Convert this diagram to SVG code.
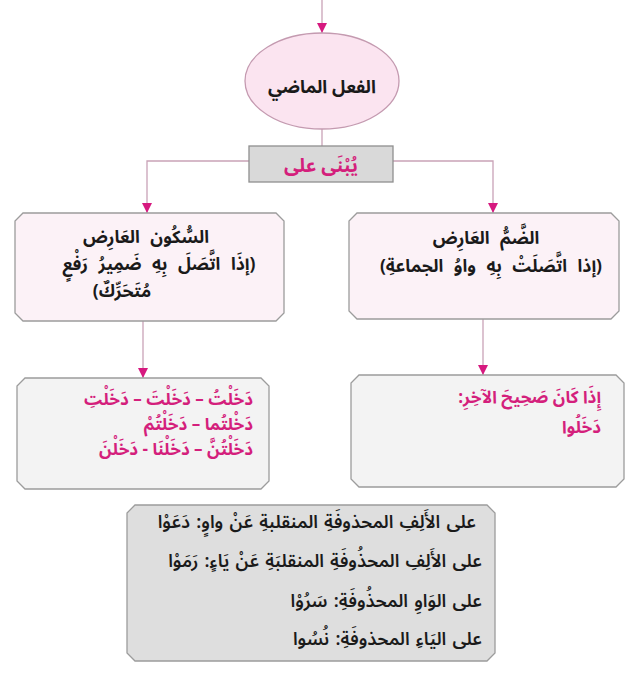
<svg xmlns="http://www.w3.org/2000/svg" width="640" height="693" viewBox="0 0 640 693">
<style>
.ln{fill:none;stroke:#c9a2b7;stroke-width:1.3}
.t{font-family:"Noto Sans Arabic","DejaVu Sans",sans-serif;direction:rtl;unicode-bidi:embed}
.b{font-weight:bold}
.c{text-anchor:middle}
.r{text-anchor:start}
.blk{fill:#1a1a1a}
.mag{fill:#d41f7c}
.box{stroke:#9c9c9c;stroke-width:1.3}
</style>
<defs>
<marker id="ah" markerUnits="userSpaceOnUse" markerWidth="10" markerHeight="11" refX="10" refY="5" orient="auto">
<path d="M0,0 L10,5 L0,10 Z" fill="#d6197f"/>
</marker>
</defs>
<rect width="640" height="693" fill="#ffffff"/>
<g id="connectors">
<path class="ln" d="M322,0 V33" marker-end="url(#ah)"/>
<path class="ln" d="M322,129 V146"/>
<path class="ln" d="M249,161 H147 V213" marker-end="url(#ah)"/>
<path class="ln" d="M393,161 H493 V213" marker-end="url(#ah)"/>
<path class="ln" d="M143,321 V378" marker-end="url(#ah)"/>
<path class="ln" d="M483,319 V375" marker-end="url(#ah)"/>
</g>
<g id="past-verb">
<ellipse cx="322" cy="81" rx="77" ry="48" fill="#fbe4f0" stroke="#c49ab0" stroke-width="1.3"/>
<text class="t b c blk" x="322" y="93" font-size="18">الفعل الماضي</text>
</g>
<g id="built-on">
<rect x="249" y="146" width="144" height="36" fill="#d9d9d9" stroke="#8f8f8f" stroke-width="1.3"/>
<text class="t b c mag" x="321" y="172" font-size="19">يُبْنَى على</text>
</g>
<g id="sukun">
<path class="box" fill="#fcf2f7" d="M23,213 H276 L284,221 V313 L276,321 H23 L15,313 V221 Z"/>
<text class="t b c blk" font-size="17.5" word-spacing="6"><tspan x="146" y="243">السُّكُون العَارِض</tspan><tspan x="159" y="270">(إذَا اتَّصَلَ بِهِ ضَمِيرُ رَفْعٍ</tspan><tspan x="122" y="297">مُتَحَرِّكٌ)</tspan></text>
</g>
<g id="damm">
<path class="box" fill="#fcf2f7" d="M357,213 H611 L619,221 V311 L611,319 H357 L349,311 V221 Z"/>
<text class="t b c blk" font-size="17.5" word-spacing="6"><tspan x="486" y="244">الضَّمُّ العَارِض</tspan><tspan x="491" y="272">(إذا اتَّصَلَتْ بِهِ واوُ الجماعةِ)</tspan></text>
</g>
<g id="sukun-examples">
<path class="box" fill="#f3f3f3" d="M25,378 H261 L269,386 V481 L261,489 H25 L17,481 V386 Z"/>
<text class="t b r mag" font-size="17"><tspan x="253" y="405">دَخَلْتُ – دَخَلْتَ – دَخَلْتِ</tspan><tspan x="253" y="430">دَخْلتُما – دَخَلْتُمْ</tspan><tspan x="253" y="455">دَخَلْتُنَّ – دَخَلْنَا - دَخَلْنَ</tspan></text>
</g>
<g id="damm-examples">
<path class="box" fill="#f3f3f3" d="M359,375 H616 L624,383 V479 L616,487 H359 L351,479 V383 Z"/>
<text class="t b r mag" font-size="17"><tspan x="601" y="403">إِذَا كَانَ صَحِيحَ الآخِرِ:</tspan><tspan x="601" y="433">دَخَلُوا</tspan></text>
</g>
<g id="fath-cases">
<path class="box" fill="#dedede" d="M135,505 H487 L495,513 V653 L487,661 H135 L127,653 V513 Z"/>
<text class="t r blk" font-size="18" font-weight="600" word-spacing="1.5"><tspan x="476" y="528">على الأَلِفِ المحذوفَةِ المنقلبةِ عَنْ واوٍ: دَعَوْا</tspan><tspan x="482" y="567">على الأَلِفِ المحذُوفَةِ المنقلبَةِ عَنْ يَاءٍ: رَمَوْا</tspan><tspan x="482" y="607">على الوَاوِ المحذُوفَةِ: سَرُوْا</tspan><tspan x="482" y="645">على اليَاءِ المحذوفَةِ: نُسُوا</tspan></text>
</g>
</svg>
